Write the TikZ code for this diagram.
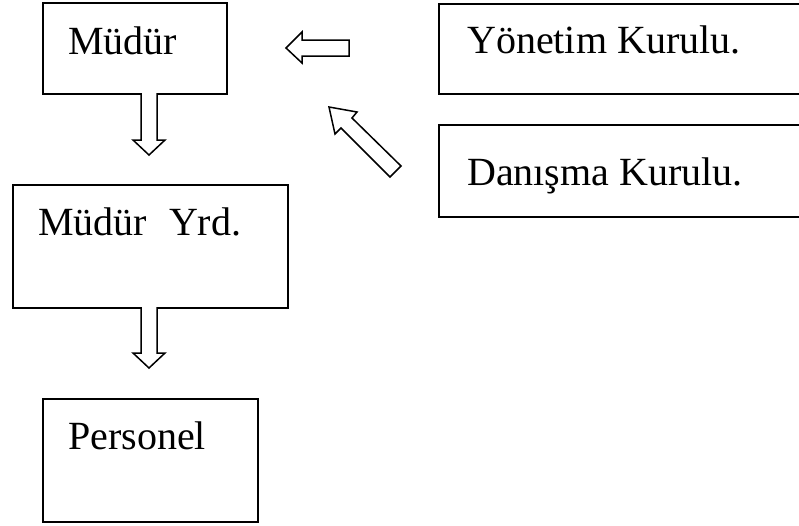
\documentclass[tikz,border=0pt]{standalone}
\usepackage{fontspec}
\setmainfont{Liberation Serif}
\begin{document}
\begin{tikzpicture}[x=1pt,y=-1pt,
  box/.style={draw,line width=1.6pt,rectangle,inner sep=0pt,anchor=north west},
  lbl/.style={anchor=base west,inner sep=0pt,font=\fontsize{40}{48}\selectfont},
  blockarrow/.style={draw,line width=1.5pt,fill=white,line join=miter}]
\useasboundingbox (0,0) rectangle (799,525);
\clip (0,0) rectangle (799,525);
% boxes
\node[box,minimum width=184pt,minimum height=91pt] (mudur) at (42,2) {};
\node[box,minimum width=275pt,minimum height=123pt] (yrd) at (12,184) {};
\node[box,minimum width=215pt,minimum height=123pt] (pers) at (42,398) {};
\node[box,minimum width=400pt,minimum height=90pt] (yk) at (438,3) {};
\node[box,minimum width=400pt,minimum height=92pt] (dk) at (438,124) {};
% labels
\node[lbl] (tmudur) at (68,54) {Müdür};
\node[lbl] (tyrd) at (38,235) {Müdür\hspace{22pt}Yrd.};
\node[lbl] (tpers) at (68,449) {Personel};
\node[lbl] (tyk) at (467,53) {Yönetim Kurulu.};
\node[lbl] (tdk) at (467,185) {Danışma Kurulu.};
% block arrows
\coordinate (a1) at (149,155);
\draw[blockarrow] (141,93) -- (141,140) -- (133,140) -- (a1) -- (165,140) -- (157,140) -- (157,93);
\coordinate (a2) at (149,368);
\draw[blockarrow] (141,307) -- (141,353) -- (133,353) -- (a2) -- (165,353) -- (157,353) -- (157,307);
\coordinate (a3) at (286,48);
\draw[blockarrow] (a3) -- (302,32) -- (302,40) -- (349,40) -- (349,56) -- (302,56) -- (302,63) -- cycle;
\coordinate (a4) at (329,107);
\draw[blockarrow] (a4) -- (357,112) -- (352,118) -- (401,166) -- (390,177) -- (341,128) -- (335,134) -- cycle;
\end{tikzpicture}
\end{document}
